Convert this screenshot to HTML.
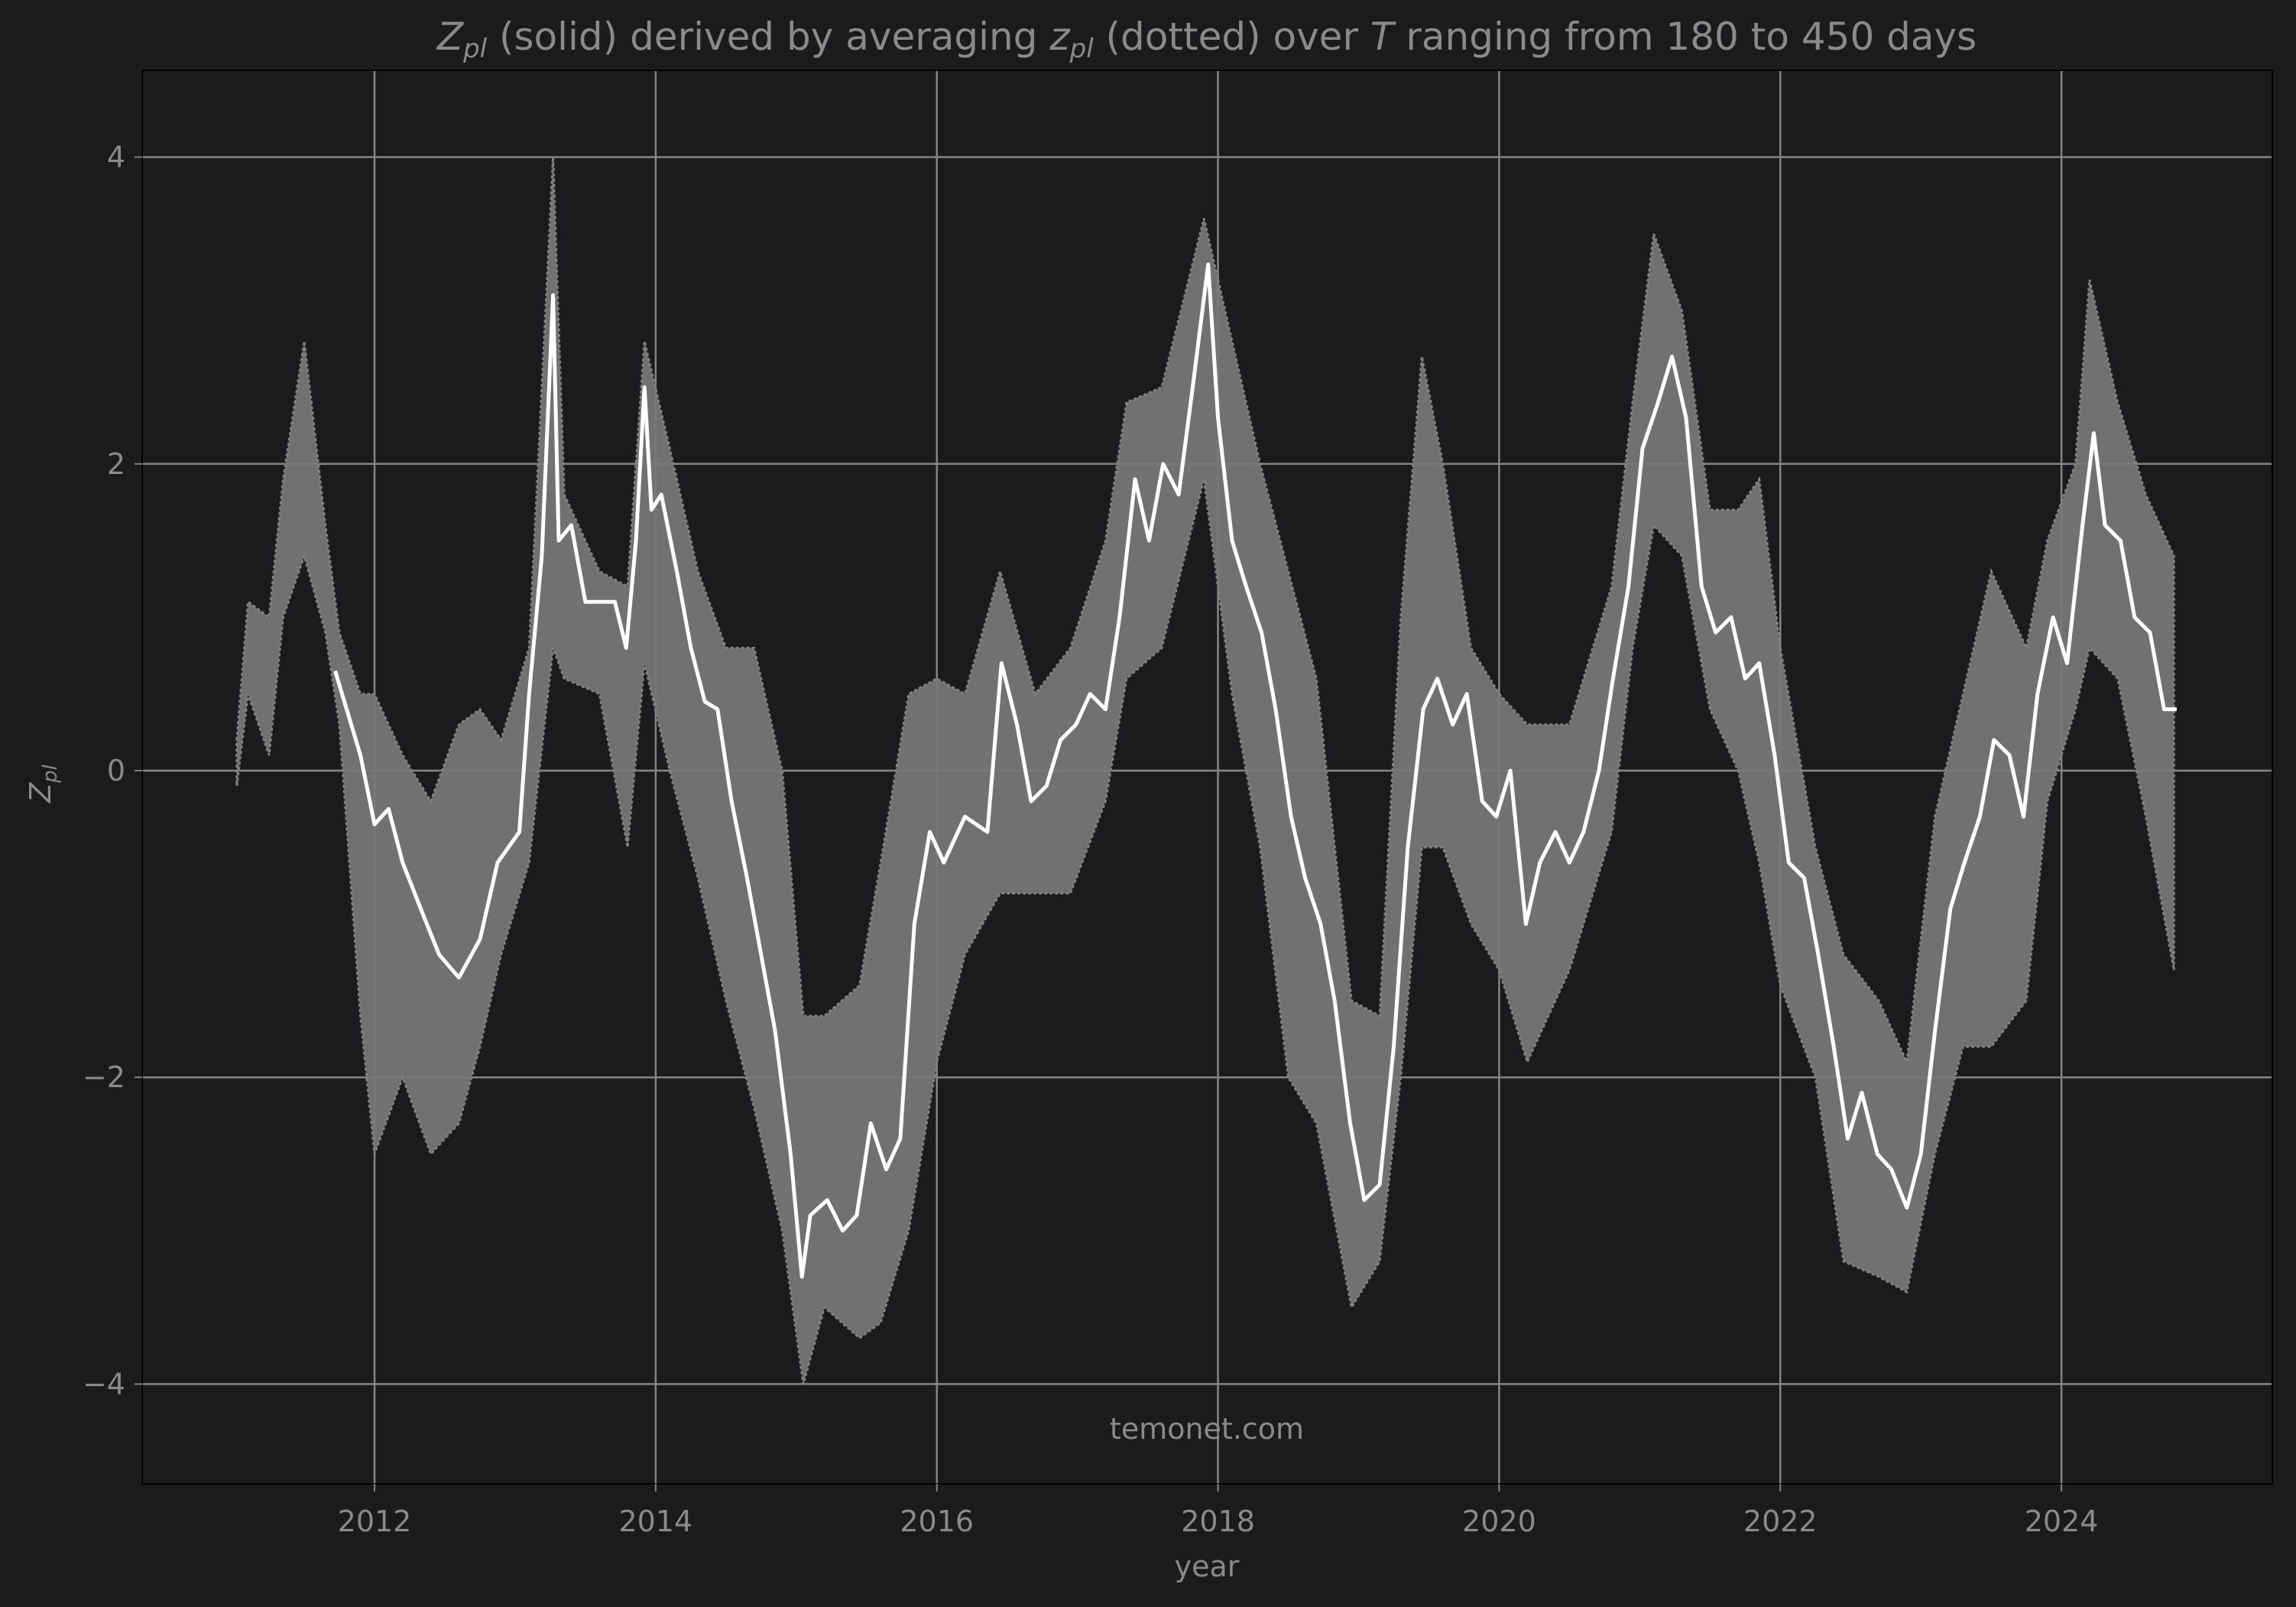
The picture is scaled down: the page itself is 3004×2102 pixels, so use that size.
<!DOCTYPE html>
<html><head><meta charset="utf-8">
<style>
html,body{margin:0;padding:0;background:#1b1b1d;}
svg{display:block;font-family:"DejaVu Sans","Liberation Sans",sans-serif;}
</style></head>
<body>
<svg id="chart" width="3004" height="2102" viewBox="0 0 3004 2102" xmlns="http://www.w3.org/2000/svg">
<rect x="0" y="0" width="3004" height="2102" fill="#1b1b1d"/>
<g id="grid"></g>
<g id="band"></g>
<g id="line"></g>
<rect x="186" y="92" width="2787" height="1849" fill="none" stroke="#000" stroke-width="2"/>
<g id="ticks"></g>
<text x="1579" y="65" text-anchor="middle" font-size="50" fill="#8a8a8a"><tspan font-style="italic">Z</tspan><tspan font-style="italic" font-size="34" dy="10">pl</tspan><tspan dy="-10"> (solid) derived by averaging </tspan><tspan font-style="italic">z</tspan><tspan font-style="italic" font-size="34" dy="10">pl</tspan><tspan dy="-10"> (dotted) over </tspan><tspan font-style="italic">T</tspan><tspan> ranging from 180 to 450 days</tspan></text>
<text x="1579" y="2062" text-anchor="middle" font-size="38" fill="#8a8a8a">year</text>
<text transform="translate(66,1025) rotate(-90)" text-anchor="middle" font-size="38" fill="#8a8a8a"><tspan font-style="italic">Z</tspan><tspan font-style="italic" font-size="26" dy="8">pl</tspan></text>
<text x="1579" y="1882" text-anchor="middle" font-size="38" fill="#8a8a8a">temonet.com</text>
</svg>
<script>
const xTicks=[2012,2014,2016,2018,2020,2022,2024];
const yTicks=[-4,-2,0,2,4];
const lineYears=[2011.72,2011.9,2012.0,2012.1,2012.2,2012.35,2012.46,2012.6,2012.75,2012.875,2013.03,2013.1,2013.19,2013.27,2013.31,2013.4,2013.5,2013.71,2013.79,2013.86,2013.92,2013.97,2014.04,2014.15,2014.25,2014.35,2014.44,2014.54,2014.65,2014.75,2014.85,2014.96,2015.04,2015.1,2015.22,2015.33,2015.43,2015.53,2015.64,2015.74,2015.84,2015.95,2016.05,2016.2,2016.36,2016.46,2016.57,2016.67,2016.78,2016.88,2016.99,2017.09,2017.2,2017.3,2017.41,2017.51,2017.61,2017.72,2017.82,2017.93,2018.0,2018.1,2018.2,2018.31,2018.41,2018.52,2018.62,2018.73,2018.83,2018.94,2019.04,2019.15,2019.25,2019.35,2019.46,2019.56,2019.67,2019.77,2019.88,2019.98,2020.08,2020.19,2020.29,2020.4,2020.5,2020.6,2020.71,2020.81,2020.92,2021.02,2021.13,2021.23,2021.33,2021.44,2021.54,2021.65,2021.75,2021.85,2021.96,2022.06,2022.17,2022.27,2022.38,2022.48,2022.58,2022.69,2022.79,2022.9,2023.0,2023.1,2023.21,2023.31,2023.42,2023.52,2023.63,2023.73,2023.83,2023.94,2024.04,2024.15,2024.23,2024.31,2024.42,2024.52,2024.63,2024.73,2024.82];
const lineValues=[0.65,0.1,-0.35,-0.25,-0.6,-0.95,-1.2,-1.35,-1.1,-0.6,-0.4,0.5,1.4,3.1,1.5,1.6,1.1,1.1,0.8,1.5,2.5,1.7,1.8,1.3,0.8,0.45,0.4,-0.2,-0.7,-1.2,-1.7,-2.5,-3.3,-2.9,-2.8,-3.0,-2.9,-2.3,-2.6,-2.4,-1.0,-0.4,-0.6,-0.3,-0.4,0.7,0.3,-0.2,-0.1,0.2,0.3,0.5,0.4,1.0,1.9,1.5,2.0,1.8,2.5,3.3,2.3,1.5,1.2,0.9,0.4,-0.3,-0.7,-1.0,-1.5,-2.3,-2.8,-2.7,-1.8,-0.5,0.4,0.6,0.3,0.5,-0.2,-0.3,0.0,-1.0,-0.6,-0.4,-0.6,-0.4,0.0,0.6,1.2,2.1,2.4,2.7,2.3,1.2,0.9,1.0,0.6,0.7,0.1,-0.6,-0.7,-1.2,-1.8,-2.4,-2.1,-2.5,-2.6,-2.85,-2.5,-1.7,-0.9,-0.6,-0.3,0.2,0.1,-0.3,0.5,1.0,0.7,1.6,2.2,1.6,1.5,1.0,0.9,0.4,0.4];
const bandYears=[2011.02,2011.1,2011.25,2011.35,2011.5,2011.65,2011.75,2011.9,2012.0,2012.2,2012.4,2012.6,2012.75,2012.9,2013.1,2013.27,2013.35,2013.6,2013.8,2013.92,2014.1,2014.3,2014.5,2014.7,2014.9,2015.05,2015.2,2015.45,2015.6,2015.8,2016.0,2016.2,2016.45,2016.7,2016.95,2017.2,2017.35,2017.6,2017.9,2018.1,2018.3,2018.5,2018.7,2018.95,2019.15,2019.3,2019.45,2019.6,2019.8,2020.0,2020.2,2020.5,2020.8,2020.95,2021.1,2021.3,2021.5,2021.7,2021.85,2022.0,2022.25,2022.45,2022.7,2022.9,2023.1,2023.3,2023.5,2023.75,2023.9,2024.1,2024.2,2024.4,2024.6,2024.8];
const bandUpper=[0.2,1.1,1.0,1.9,2.8,1.6,0.9,0.5,0.5,0.1,-0.2,0.3,0.4,0.2,0.8,4.0,1.8,1.3,1.2,2.8,2.1,1.3,0.8,0.8,0.0,-1.6,-1.6,-1.4,-0.6,0.5,0.6,0.5,1.3,0.5,0.8,1.5,2.4,2.5,3.6,2.8,2.0,1.3,0.6,-1.5,-1.6,1.0,2.7,2.0,0.8,0.5,0.3,0.3,1.2,2.4,3.5,3.0,1.7,1.7,1.9,0.8,-0.5,-1.2,-1.5,-1.9,-0.3,0.5,1.3,0.8,1.5,2.0,3.2,2.4,1.8,1.4];
const bandLower=[-0.1,0.5,0.1,1.0,1.4,0.9,0.3,-1.6,-2.5,-2.0,-2.5,-2.3,-1.8,-1.2,-0.6,0.8,0.6,0.5,-0.5,0.7,0.0,-0.7,-1.5,-2.2,-3.0,-4.0,-3.5,-3.7,-3.6,-3.0,-1.9,-1.2,-0.8,-0.8,-0.8,-0.2,0.6,0.8,1.9,0.5,-0.5,-2.0,-2.3,-3.5,-3.2,-2.0,-0.5,-0.5,-1.0,-1.3,-1.9,-1.3,-0.4,0.8,1.6,1.4,0.4,0.0,-0.6,-1.4,-2.0,-3.2,-3.3,-3.4,-2.5,-1.8,-1.8,-1.5,-0.2,0.4,0.8,0.6,-0.3,-1.3];

const NS='http://www.w3.org/2000/svg';
const L=186,R=2973,T=92,B=1941;
const X0=2010.347,X1=2025.5,Y0=-4.651,Y1=4.566;
function xs(v){return L+(v-X0)/(X1-X0)*(R-L);}
function ys(v){return B-(v-Y0)/(Y1-Y0)*(B-T);}
function mk(tag,attrs,parent){const e=document.createElementNS(NS,tag);for(const k in attrs)e.setAttribute(k,attrs[k]);parent.appendChild(e);return e;}
const grid=document.getElementById('grid'),ticks=document.getElementById('ticks');
xTicks.forEach(t=>{
  const g=mk('line',{x1:xs(t),x2:xs(t),y1:T,y2:B,stroke:'#858585','stroke-width':2.5},grid);
  
  
  const tk=mk('line',{x1:xs(t),x2:xs(t),y1:B,y2:B+10,stroke:'#858585','stroke-width':2},ticks);
  
  
  const tx=mk('text',{x:xs(t),y:2003,'text-anchor':'middle','font-size':38,fill:'#8a8a8a'},ticks);
  tx.textContent=t;
  
  
});
yTicks.forEach(t=>{
  const g=mk('line',{x1:L,x2:R,y1:ys(t),y2:ys(t),stroke:'#858585','stroke-width':2.5},grid);
  
  
  const tk=mk('line',{x1:L-10,x2:L,y1:ys(t),y2:ys(t),stroke:'#858585','stroke-width':2},ticks);
  
  
  const tx=mk('text',{x:164,y:ys(t)+13,'text-anchor':'end','font-size':38,fill:'#8a8a8a'},ticks);
  tx.textContent=(t<0?'\u2212'+(-t):t);
  
  
});
let d='';
bandYears.forEach((y,i)=>{d+=(i?'L':'M')+xs(y).toFixed(1)+','+ys(bandUpper[i]).toFixed(1);});
for(let i=bandYears.length-1;i>=0;i--){d+='L'+xs(bandYears[i]).toFixed(1)+','+ys(bandLower[i]).toFixed(1);}
d+='Z';
const band=mk('path',{d:d,fill:'#787878','fill-opacity':0.92,stroke:'#808080','stroke-width':3,'stroke-dasharray':'4 3'},document.getElementById('band'));


let p='';
lineYears.forEach((y,i)=>{p+=(i?'L':'M')+xs(y).toFixed(1)+','+ys(lineValues[i]).toFixed(1);});
const ln=mk('path',{d:p,fill:'none',stroke:'#ffffff','stroke-width':5,'stroke-linejoin':'round'},document.getElementById('line'));


</script>
</body></html>
